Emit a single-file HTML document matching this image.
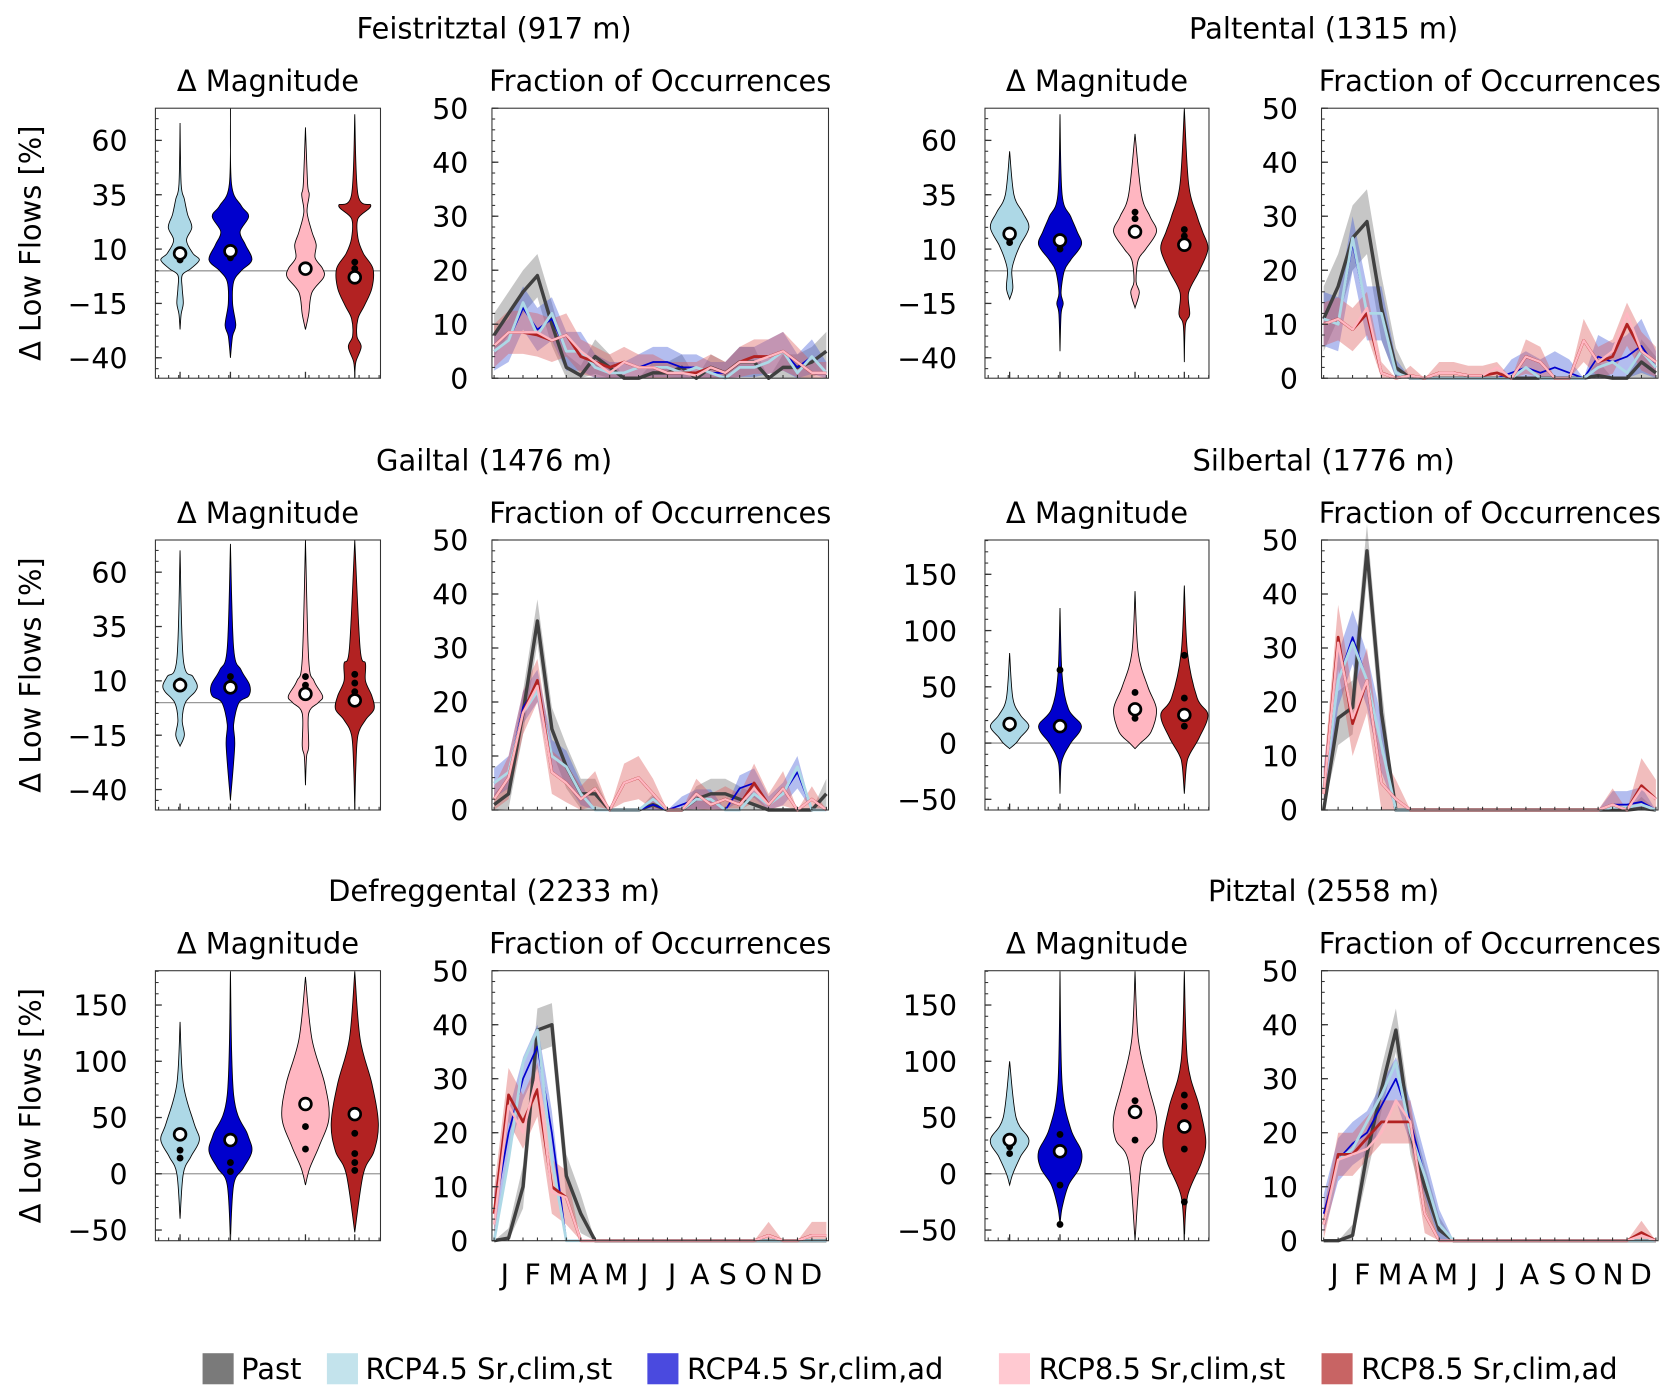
<!DOCTYPE html>
<html><head><meta charset="utf-8">
<style>
html,body{margin:0;padding:0;background:#fff;}
svg{display:block;font-family:"DejaVu Sans","Liberation Sans",sans-serif;}
</style></head>
<body>
<svg id="fig" width="1672" height="1395" viewBox="0 0 1560 1302" preserveAspectRatio="none" xmlns="http://www.w3.org/2000/svg">
<g id="legend">
  <rect x="189" y="1263" width="29" height="29" fill="#7a7a7a"/>
  <text x="225" y="1287" font-size="27">Past</text>
  <rect x="305" y="1263" width="29" height="29" fill="#c3e3ec"/>
  <text x="341" y="1287" font-size="27">RCP4.5 Sr,clim,st</text>
  <rect x="604" y="1263" width="29" height="29" fill="#4a4adf"/>
  <text x="641" y="1287" font-size="27">RCP4.5 Sr,clim,ad</text>
  <rect x="932" y="1263" width="29" height="29" fill="#ffc9d1"/>
  <text x="969" y="1287" font-size="27">RCP8.5 Sr,clim,st</text>
  <rect x="1233" y="1263" width="29" height="29" fill="#c86464"/>
  <text x="1270" y="1287" font-size="27">RCP8.5 Sr,clim,ad</text>
</g>
</svg>
<script>
// ---------- data ----------
const months = ["J","F","M","A","M","J","J","A","S","O","N","D"];
const stations = ["Feistritztal (917 m)","Paltental (1315 m)","Gailtal (1476 m)","Silbertal (1776 m)","Defreggental (2233 m)","Pitztal (2558 m)"];
const fracTicks = [0,10,20,30,40,50];
const magTicksA = [60,35,10,-15,-40];
const magTicksB = [150,100,50,0,-50];

const p1_past=[8,12,16,19,10,2,0.5,4,2,0,0,1,1,2,0,2,1,3,3,0,2,2,3,5];
const p1_st45=[5,7,14,8,12,5,5,2,1,1,2,2,2,1,2,1,0,2,2,3,5,1,4,1];
const p1_ad45=[5,7,13,9,11,5,5,2,1,1,2,3,3,2,2,1,1,3,3,4,5,2,4,1];
const p1_st85=[6,8.5,8.5,8.5,7,8,5,3,1,3,2,2,1,1,0.5,2,1,3,3,4,5,3,1,1];
const p1_ad85=[6,8.5,8.5,8,7,8,4,3,2,3,2,2,1,1,1,2,1,3,4,4,5,3,1,1];

const p2_past=[11,17,26,29,13,2,0,0,0,0,0,0,0,0,0,0,0,0,0,0.5,0,0,3,1];
const p2_st45=[11,10,26,12,12,1,0,0,0,0,0,0,0,0,2,0,0,0,0,2,3,1,5,2];
const p2_ad45=[11,10,25,12,12,1,0,0,0,0,0,0,0,1,2,1,2,1,0,4,3,4,6,2];
const p2_st85=[10,11,9,13,1,0,0.5,0,1,1,0.5,0.5,2,0,4,3,0,0,7,3,5,12,5,3];
const p2_ad85=[10,11,9,12,1,0,0.5,0,1,1,0.5,0.5,1,0,4,3,0,0,7,3,4,10,5,3];

const p3_past=[1,3,18,35,15,8,3,3,0,0,0,1,0,0,2,3,3,2,1,0,0,0,0,3];
const p3_st45=[5,7,18,22,10,8,3,0,0,0,0,2,0,0,2,2,0,0,3,1,3,8,0,0];
const p3_ad45=[5,7,19,23,10,8,3,0,0,0,0,1,0,1,2,2,0,4,5,1,3,7,0,0];
const p3_st85=[2,6,18,23,7,5,2,4,0,5,6,3,0,0,3,1,2,1,4,1,4,0,2,0];
const p3_ad85=[2,6,18,24,7,5,2,4,0,5,6,3,0,0,3,1,2,1,5,1,4,0,2,0];

const p4_past=[0,17,19,48,18,0,0,0,0,0,0,0,0,0,0,0,0,0,0,0,0,0,0.3,0];
const p4_st45=[4,24,31,24,12,0,0,0,0,0,0,0,0,0,0,0,0,0,0,0,0.5,0.5,1,0];
const p4_ad45=[4,24,32,24,12,0,0,0,0,0,0,0,0,0,0,0,0,0,0,0,1,1,1.5,0];
const p4_st85=[3,31,17,24,5,2,0,0,0,0,0,0,0,0,0,0,0,0,0,0,1,0,4,2];
const p4_ad85=[3,32,16,24,5,2,0,0,0,0,0,0,0,0,0,0,0,0,0,0,1,0,4.5,2];

const p5_past=[0,0.5,10,39,40,12,5,0,0,0,0,0,0,0,0,0,0,0,0,0,0,0,0,0];
const p5_st45=[0,15,33,39,15,0,0,0,0,0,0,0,0,0,0,0,0,0,0,0,0,0,0,0];
const p5_ad45=[5,20,30,36,20,0,0,0,0,0,0,0,0,0,0,0,0,0,0,0,0,0,0,0];
const p5_st85=[3,25,20,31,9,8,0,0,0,0,0,0,0,0,0,0,0,0,0,1,0,0,1,1];
const p5_ad85=[5,27,22,28,10,8,0,0,0,0,0,0,0,0,0,0,0,0,0,1,0,0,1,1];

const p6_past=[0,0,1,16,28,39,20,10,2,0,0,0,0,0,0,0,0,0,0,0,0,0,0,0];
const p6_st45=[3,15,17,22,27,33,20,12,3,0,0,0,0,0,0,0,0,0,0,0,0,0,0,0];
const p6_ad45=[5,15,18,20,25,30,22,12,3,0,0,0,0,0,0,0,0,0,0,0,0,0,0,0];
const p6_st85=[3,15,16,17,20,26,22,5,0,0,0,0,0,0,0,0,0,0,0,0,0,0,1,0];
const p6_ad85=[3,16,16,19,22,22,22,5,0,0,0,0,0,0,0,0,0,0,0,0,0,0,1.5,0];

// band half-widths: [past, rcp45, rcp85]
const p1_band=[4,4,4]; const p2_band=[6,5,4]; const p3_band=[4,3,4];
const p4_band=[5,5,6]; const p5_band=[4,4,5]; const p6_band=[4,4,4];

// violin profiles [value, half-width px] top->bottom ; medians ; dots
const v1_st45=[[68,0],[40,1],[33,4],[26,7],[20,11],[14,6],[8,12],[5,18],[1,10],[-2,2],[-8,2],[-15,3],[-20,1],[-27,0]];
const v1_ad45=[[75,0],[40,1],[30,10],[25,17],[18,9],[12,14],[5,20],[0,10],[-5,3],[-15,2],[-25,5],[-30,2],[-40,0]];
const v1_st85=[[66,0],[40,2],[35,3.5],[27,1.5],[18,6],[12,10],[6,9],[1,16],[-3,17],[-10,6],[-20,3],[-27,0]];
const v1_ad85=[[72,0],[35,3],[30,15],[24,3],[15,3],[8,8],[1,17],[-8,16],[-16,9],[-22,3],[-30,2],[-35,6],[-42,1],[-49,0]];
const v2_st45=[[55,0],[35,4],[27,12],[20,18],[12,10],[6,5],[0,2],[-8,3],[-13,0]];
const v2_ad45=[[72,0],[35,2],[25,10],[18,16],[12,20],[5,10],[0,4],[-10,1],[-15,3],[-20,1],[-37,0]];
const v2_st85=[[63,0],[35,6],[25,14],[18,20],[10,10],[5,3],[-5,1],[-10,4],[-17,0]];
const v2_ad85=[[75,0],[40,4],[25,12],[18,17],[10,22],[0,14],[-10,4],[-20,5],[-25,1],[-42,0]];
const v3_st45=[[70,0],[20,3],[12,12],[8,16],[5,14],[0,5],[-8,2],[-15,4],[-20,0]];
const v3_ad45=[[73,0],[25,3],[15,10],[8,18],[3,17],[0,8],[-10,3],[-20,4],[-45,0]];
const v3_st85=[[75,0],[20,3],[10,8],[3,16],[0,12],[-5,3],[-20,3],[-25,1],[-38,0]];
const v3_ad85=[[75,0],[25,5],[18,10],[10,10],[3,16],[-3,18],[-8,10],[-15,3],[-30,1],[-50,0]];
const v4_st45=[[80,0],[40,3],[25,10],[15,18],[5,10],[0,6],[-5,0]];
const v4_ad45=[[120,0],[60,2],[30,8],[15,20],[0,10],[-10,4],[-20,1],[-45,0]];
const v4_st85=[[135,0],[80,3],[50,12],[30,20],[10,15],[0,5],[-5,0]];
const v4_ad85=[[140,0],[80,3],[40,12],[25,22],[5,14],[-10,5],[-20,2],[-45,0]];
const v5_st45=[[135,0],[80,3],[45,13],[30,18],[15,10],[0,3],[-40,0]];
const v5_ad45=[[180,0],[70,3],[35,16],[20,20],[5,12],[-10,3],[-60,0]];
const v5_st85=[[175,0],[120,6],[80,18],[50,22],[25,13],[5,4],[-10,0]];
const v5_ad85=[[180,0],[120,5],[80,16],[45,22],[20,18],[0,8],[-52,0]];
const v6_st45=[[100,0],[50,6],[30,18],[15,10],[0,3],[-10,0]];
const v6_ad45=[[180,0],[80,2],[40,10],[20,20],[5,18],[-10,8],[-30,2],[-45,0]];
const v6_st85=[[180,0],[120,3],[80,12],[50,20],[30,18],[10,6],[-60,0]];
const v6_ad85=[[180,0],[100,3],[60,14],[30,20],[10,16],[-20,3],[-60,0]];

const v1_med=[8,9,1,-3]; const v2_med=[17,14,18,12]; const v3_med=[8,7,4,1];
const v4_med=[17,15,30,25]; const v5_med=[35,30,62,53]; const v6_med=[30,20,55,42];
const v1_dots=[[5],[6,7],[1],[1,4]]; const v2_dots=[[13],[12,10],[27,24],[19,16]];
const v3_dots=[[10],[12,9],[12,8],[13,9,5,3]]; const v4_dots=[[13,20],[65,18],[45,22],[78,40,15]];
const v5_dots=[[21,14],[10,2],[42,22],[36,18,10,3]]; const v6_dots=[[18,24],[35,-10,-45],[65,30],[70,60,22,-25]];

// ---------- layout ----------
const NS="http://www.w3.org/2000/svg";
const svg=document.getElementById('fig');
const cols=[{v0:145,v1:355,f0:459,f1:773,tc:461},{v0:919,v1:1128,f0:1233,f1:1547,tc:1235}];
const rows=[101,504,906]; const H=252;
const colors={st45:"#add8e6",ad45:"#0000cd",st85:"#ffb6c1",ad85:"#b22222"};
const vOff=[23,70,140,186];

function mk(tag,attrs,parent){const e=document.createElementNS(NS,tag);for(const k in attrs)e.setAttribute(k,attrs[k]);(parent||svg).appendChild(e);return e;}
function txt(x,y,s,size,anchor,parent){const t=mk('text',{x:x,y:y,'font-size':size,'text-anchor':anchor||'middle'},parent);t.textContent=s;return t;}

function smoothPath(pts){
  let d="M"+pts[0][0]+","+pts[0][1];
  for(let i=0;i<pts.length-1;i++){
    const p0=pts[Math.max(0,i-1)],p1=pts[i],p2=pts[i+1],p3=pts[Math.min(pts.length-1,i+2)];
    const c1=[p1[0]+(p2[0]-p0[0])/6,p1[1]+(p2[1]-p0[1])/6];
    const c2=[p2[0]-(p3[0]-p1[0])/6,p2[1]-(p3[1]-p1[1])/6];
    d+=" C"+c1[0]+","+c1[1]+" "+c2[0]+","+c2[1]+" "+p2[0]+","+p2[1];
  }
  return d;
}

const panels=[
 {frac:[p1_past,p1_st45,p1_ad45,p1_st85,p1_ad85],band:p1_band,vio:[v1_st45,v1_ad45,v1_st85,v1_ad85],med:v1_med,dots:v1_dots,scale:'A'},
 {frac:[p2_past,p2_st45,p2_ad45,p2_st85,p2_ad85],band:p2_band,vio:[v2_st45,v2_ad45,v2_st85,v2_ad85],med:v2_med,dots:v2_dots,scale:'A'},
 {frac:[p3_past,p3_st45,p3_ad45,p3_st85,p3_ad85],band:p3_band,vio:[v3_st45,v3_ad45,v3_st85,v3_ad85],med:v3_med,dots:v3_dots,scale:'A'},
 {frac:[p4_past,p4_st45,p4_ad45,p4_st85,p4_ad85],band:p4_band,vio:[v4_st45,v4_ad45,v4_st85,v4_ad85],med:v4_med,dots:v4_dots,scale:'B'},
 {frac:[p5_past,p5_st45,p5_ad45,p5_st85,p5_ad85],band:p5_band,vio:[v5_st45,v5_ad45,v5_st85,v5_ad85],med:v5_med,dots:v5_dots,scale:'B'},
 {frac:[p6_past,p6_st45,p6_ad45,p6_st85,p6_ad85],band:p6_band,vio:[v6_st45,v6_ad45,v6_st85,v6_ad85],med:v6_med,dots:v6_dots,scale:'B'}
];

const TF=27, TK=26.5;
panels.forEach((p,pi)=>{
  const c=cols[pi%2], top=rows[Math.floor(pi/2)], bot=top+H;
  const g=mk('g',{});
  
  
  const st=txt(c.tc,top-65,stations[pi],TF,'middle',g);
  
  
  const mt=txt((c.v0+c.v1)/2,top-16,"Δ Magnitude",TF,'middle',g);
  
  
  const ft=txt((c.f0+c.f1)/2,top-16,"Fraction of Occurrences",TF,'middle',g);
  
  
  if(pi%2===0){
    const yl=mk('text',{x:0,y:0,'font-size':TF,'text-anchor':'middle',transform:`translate(38,${top+126}) rotate(-90)`},g);
    yl.textContent="Δ Low Flows [%]";
    
    
  }
  const A=p.scale==='A';
  const ymin=A?-49.4:-59.5, ymax=A?74.8:180.5;
  const vy=v=>bot-(v-ymin)/(ymax-ymin)*H;
  const vg=mk('g',{},g);
  
  
  mk('line',{x1:c.v0,x2:c.v1,y1:vy(0),y2:vy(0),stroke:'#999','stroke-width':1.2},vg);
  const keys=['st45','ad45','st85','ad85'];
  p.vio.forEach((prof,k)=>{
    const cx=c.v0+vOff[k];
    const clip=prof.map(q=>[Math.max(ymin,Math.min(ymax,q[0])),q[1]]);
    const right=clip.map(q=>[cx+q[1],vy(q[0])]);
    const left=clip.slice().reverse().map(q=>[cx-q[1],vy(q[0])]);
    let d=smoothPath(right)+" L"+left[0][0]+","+left[0][1]+smoothPath(left).replace(/^M[^C]*/," ")+" Z";
    const v=mk('path',{d:d,fill:colors[keys[k]],stroke:'#000','stroke-width':0.8},vg);
    
    
    p.dots[k].forEach(dv=>{
      const dt=mk('circle',{cx:cx,cy:vy(dv),r:3.2,fill:'#000'},vg);
      
      
    });
    const m=mk('circle',{cx:cx,cy:vy(p.med[k]),r:5.5,fill:'#fff',stroke:'#000','stroke-width':2.5},vg);
    
    
  });
  mk('rect',{x:c.v0,y:top,width:c.v1-c.v0,height:H,fill:'none',stroke:'#333','stroke-width':1},vg);
  const tks=A?magTicksA:magTicksB;
  const step=A?5:10;
  for(let v=Math.ceil(ymin/step)*step;v<=ymax;v+=step){mk('line',{x1:c.v0,x2:c.v0+3,y1:vy(v),y2:vy(v),stroke:'#333','stroke-width':1},vg);}
  tks.forEach(t=>{
    mk('line',{x1:c.v0,x2:c.v0+6,y1:vy(t),y2:vy(t),stroke:'#333','stroke-width':1.2},vg);
    const l=txt(c.v0-26,vy(t)+10,(t<0?"\u2212"+(-t):""+t),TK,'end',vg);
    
    
  });
  for(let i=0;i<=22;i++){const x=c.v0+3+i*9.35;mk('line',{x1:x,x2:x,y1:bot,y2:bot-3,stroke:'#333','stroke-width':1},vg);}
  vOff.forEach(o=>mk('line',{x1:c.v0+o,x2:c.v0+o,y1:bot,y2:bot-6,stroke:'#333','stroke-width':1.2},vg));

  const fg=mk('g',{},g);
  
  
  const n=p.frac[0].length;
  const fx=i=>c.f0+2+i*(c.f1-c.f0-4)/(n-1);
  const fy=v=>bot-v/50*H;
  const bandDefs=[[0,'rgba(128,128,128,0.45)'],[2,'rgba(65,90,215,0.4)'],[4,'rgba(220,90,90,0.4)']];
  bandDefs.forEach((b,bi)=>{
    const s=p.frac[b[0]], w=p.band[bi];
    let up=s.map((v,i)=>[fx(i),fy(v+(v>0?w*Math.min(1,0.4+v/10):0))]);
    let lo=s.map((v,i)=>[fx(i),fy(Math.max(0,v-(v>0?w*Math.min(1,0.4+v/10):0)))]).reverse();
    const bp=mk('path',{d:"M"+up.concat(lo).map(q=>q[0].toFixed(1)+","+q[1].toFixed(1)).join(" L")+" Z",fill:b[1]},fg);
    
    
  });
  const lineDefs=[[0,'#404040',3.2,'past'],[2,colors.ad45,1.6,'rcp45-ad'],[1,colors.st45,2.6,'rcp45-st'],[4,colors.ad85,2.6,'rcp85-ad'],[3,colors.st85,2.2,'rcp85-st']];
  lineDefs.forEach(L=>{
    const s=p.frac[L[0]];
    const pl=mk('polyline',{points:s.map((v,i)=>fx(i).toFixed(1)+","+fy(v).toFixed(1)).join(" "),fill:'none',stroke:L[1],'stroke-width':L[2],'stroke-linejoin':'round'},fg);
    
    
  });
  mk('rect',{x:c.f0,y:top,width:c.f1-c.f0,height:H,fill:'none',stroke:'#333','stroke-width':1},fg);
  for(let v=0;v<=50;v+=2){mk('line',{x1:c.f0,x2:c.f0+3,y1:fy(v),y2:fy(v),stroke:'#333','stroke-width':1},fg);}
  fracTicks.forEach(t=>{
    mk('line',{x1:c.f0,x2:c.f0+6,y1:fy(t),y2:fy(t),stroke:'#333','stroke-width':1.2},fg);
    const l=txt(c.f0-22,fy(t)+10,""+t,TK,'end',fg);
    
    
  });
  for(let i=0;i<n;i++){mk('line',{x1:fx(i),x2:fx(i),y1:bot,y2:bot-3,stroke:'#333','stroke-width':1},fg);}
  if(Math.floor(pi/2)===2){
    months.forEach((m,i)=>{
      const l=txt(c.f0+12+i*26,bot+41,m,TK,'middle',fg);
      
      
    });
  }
});
</script>
</body></html>
